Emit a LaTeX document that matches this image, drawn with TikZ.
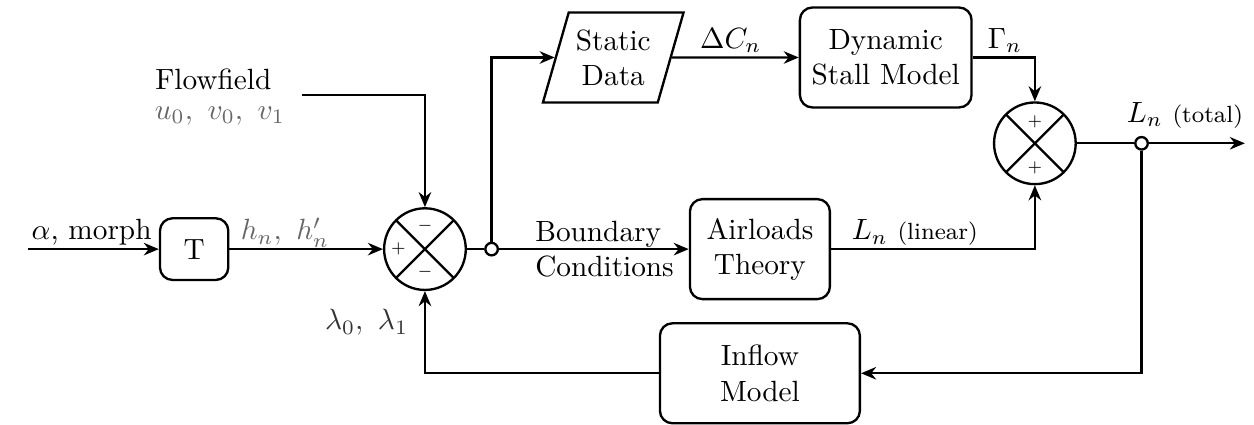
\documentclass[tikz,border=0pt]{standalone}
\usetikzlibrary{shapes.geometric,arrows.meta,positioning}

\tikzset{
    block/.style={draw, thick, rounded corners=0.15cm, align=center},
    sumnode/.style={circle, draw, thick, minimum size=0.98cm, inner sep=0pt,
        path picture={\draw [thick] (path picture bounding box.north west) -- (path picture bounding box.south east)
            (path picture bounding box.north east) -- (path picture bounding box.south west);}},
    branch/.style={circle, draw, thick, inner sep=0pt, minimum size=0.15cm},
    sign/.style={font=\tiny, inner sep=0pt},
    signal/.style={thick, -{Stealth[length=1.8mm, width=1.5mm]}},
    faint/.style={text=black!60}
}

\begin{document}
\begin{tikzpicture}
    \useasboundingbox (0, 0) rectangle (15.05, 5.09);

    % blocks
    \node [block, minimum width=0.82cm, minimum height=0.74cm] (T) at (2.33, 2.10) {T};
    \node [sumnode] (sum1) at (5.10, 2.10) {};
    \node [trapezium, draw, thick, align=center, trapezium left angle=74, trapezium right angle=106,
        minimum height=1.08cm, inner xsep=0pt] (static) at (7.36, 4.40) {Static\\Data};
    \node [block, minimum width=2.06cm, minimum height=1.20cm] (dyn) at (10.63, 4.40) {Dynamic\\Stall Model};
    \node [sumnode] (sum2) at (12.42, 3.37) {};
    \node [block, minimum width=1.68cm, minimum height=1.20cm] (air) at (9.12, 2.10) {Airloads\\Theory};
    \node [block, minimum width=2.40cm, minimum height=1.20cm] (inflow) at (9.12, 0.61) {Inflow\\Model};

    % signs
    \node [sign] (s1n) at ([yshift=0.28cm] sum1.center) {$-$};
    \node [sign] (s1w) at ([xshift=-0.32cm] sum1.center) {$+$};
    \node [sign] (s1s) at ([yshift=-0.27cm] sum1.center) {$-$};
    \node [sign] (s2n) at ([yshift=0.26cm] sum2.center) {$+$};
    \node [sign] (s2s) at ([yshift=-0.29cm] sum2.center) {$+$};

    % branch points and free ends
    \coordinate (in) at (0.34, 2.10);
    \coordinate (ffin) at (3.62, 3.95);
    \coordinate (out) at (14.94, 3.37);
    \node [branch] (dot1) at (5.90, 2.10) {};
    \node [branch] (dot2) at (13.70, 3.37) {};

    % connectors
    \draw [signal] (in) -- (T.west);
    \draw [signal] (T.east) -- (sum1.west);
    \draw [signal] (ffin) -| (sum1.north);
    \draw [thick] (sum1.east) -- (dot1.west);
    \draw [signal] (dot1.north) |- (static.west);
    \draw [signal] (dot1.east) -- (air.west);
    \draw [signal] (static.east) -- (dyn.west);
    \draw [signal] (dyn.east) -| (sum2.north);
    \draw [signal] (air.east) -| (sum2.south);
    \draw [thick] (sum2.east) -- (dot2.west);
    \draw [signal] (dot2.east) -- (out);
    \draw [signal] (dot2.south) |- (inflow.east);
    \draw [signal] (inflow.west) -| (sum1.south);

    % labels
    \node [anchor=base] (alpha) at (1.10, 2.21) {$\alpha$, morph};
    \node [anchor=base, faint] (hn) at (3.42, 2.21) {$h_n,\ h'_n$};
    \node [anchor=base, inner sep=1pt] (flow) at (2.56, 4.01) {Flowfield};
    \node [anchor=base, inner sep=1pt, faint] (uv) at (2.64, 3.66) {$u_0,\ v_0,\ v_1$};
    \node [anchor=base, text=black!80] (lam) at (4.40, 1.13) {$\lambda_0,\ \lambda_1$};
    \node [anchor=west, align=left] (bc) at (6.30, 2.10) {Boundary\\Conditions};
    \node [anchor=base] (dc) at (8.77, 4.51) {$\Delta C_n$};
    \node [anchor=base] (gam) at (12.06, 4.51) {$\Gamma_n$};
    \node [anchor=base west] (lin) at (10.10, 2.21) {$L_n$ {\footnotesize (linear)}};
    \node [anchor=base west] (tot) at (13.40, 3.62) {$L_n$ {\footnotesize (total)}};
\end{tikzpicture}
\end{document}
